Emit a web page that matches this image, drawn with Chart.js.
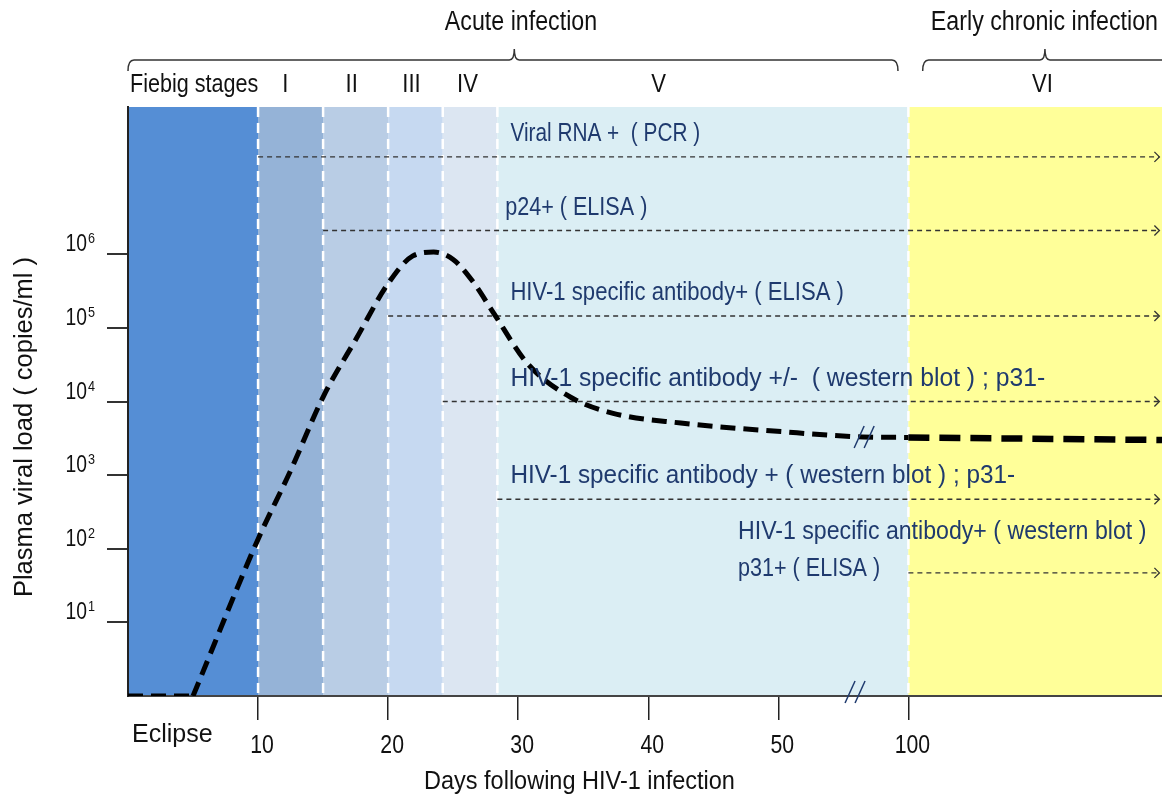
<!DOCTYPE html>
<html>
<head>
<meta charset="utf-8">
<script src="https://cdn.jsdelivr.net/npm/chart.js@4.4.1/dist/chart.umd.min.js"></script>
<style>
  html, body { margin: 0; padding: 0; background: #fff; }
  #wrap { width: 1162px; height: 797px; }
</style>
</head>
<body>
<div id="wrap"><canvas id="c"></canvas></div>
<script>
// days on the drawn axis; the "100" tick sits where day 60 would be (axis break)
const xTickDays = [10, 20, 30, 40, 50, 60];
const xTickLabels = ['10', '20', '30', '40', '50', '100'];
const yTickExps = [1, 2, 3, 4, 5, 6];

// Fiebig stage bands
const stageEdges = [0, 10, 15, 20, 24.2, 28.4, 60, 80];
const stageColors = ['#558ed5', '#95b3d7', '#b9cde5', '#c6d9f1', '#dce6f2', '#dbeef4', '#ffff99'];
const stageNames = ['I', 'II', 'III', 'IV', 'V', 'VI'];
const stageLabelDays = [12.1, 17.2, 21.8, 26.1, 40.8, 70.3];

// viral load curve (copies/ml)
const eclipseDays = [0, 5];
const eclipseLoad = [1, 1];
const acuteDays = [5, 10, 12.5, 15, 17.6, 20, 21.9, 23.5, 25, 26.5, 28.1, 30.7, 34, 37.3, 42.5, 50.2, 56.5, 60];
const acuteLoad = [1, 135, 1150, 11500, 74000, 400000, 950000, 1070000, 850000, 430000, 160000, 33000, 11500, 6900, 5100, 3900, 3300, 3250];
const chronicDays = [60, 79.5];
const chronicLoad = [3250, 3000];

// diagnostic assays: start day, level on the chart, label
const assayStart = [10, 15, 20, 24.2, 28.4, 60];
const assayLevel = [2.1e7, 2.1e6, 1.45e5, 1.0e4, 470, 47];
const assayLabels = [
  ['Viral RNA +  ( PCR )'],
  ['p24+ ( ELISA )'],
  ['HIV-1 specific antibody+ ( ELISA )'],
  ['HIV-1 specific antibody +/-  ( western blot ) ; p31-'],
  ['HIV-1 specific antibody + ( western blot ) ; p31-'],
  ['HIV-1 specific antibody+ ( western blot )', 'p31+ ( ELISA )']
];
const assayLabelDays = [29.4, 29.0, 29.4, 29.4, 29.4, 46.9];
const assayEnd = 79.3;

const FONT = '"Liberation Sans", Arial, sans-serif';
const NAVY = '#1f3a6e';
// horizontal squeeze per label line, to get the narrow look of the original face
const labelStretch = [[0.80], [0.83], [0.85], [0.95], [0.935], [0.89, 0.83]];

function xy(days, vals) { return days.map((d, i) => ({ x: d, y: vals[i] })); }

// condensed text: draw Liberation Sans squeezed horizontally
function txt(ctx, s, x, y, size, align, sx, color) {
  ctx.save();
  ctx.translate(x, y);
  ctx.scale(sx, 1);
  ctx.font = size + 'px ' + FONT;
  ctx.textAlign = align;
  ctx.textBaseline = 'alphabetic';
  ctx.fillStyle = color;
  ctx.fillText(s, 0, 0);
  ctx.restore();
}

const assaySets = assayStart.map((s, i) => ({
  data: [{ x: s, y: assayLevel[i] }, { x: assayEnd, y: assayLevel[i] }],
  borderColor: '#333',
  borderWidth: 1.4,
  borderDash: [5, 4],
  pointRadius: 0,
  fill: false
}));

const curveStyle = { borderColor: '#000', pointRadius: 0, fill: false, borderCapStyle: 'butt' };

const decor = {
  id: 'decor',
  beforeDraw(chart) {
    const { ctx, chartArea: a, scales: { x } } = chart;
    ctx.save();
    ctx.fillStyle = '#fff';
    ctx.fillRect(0, 0, chart.width, chart.height);
    stageColors.forEach((c, i) => {
      const x0 = x.getPixelForValue(stageEdges[i]);
      const x1 = Math.min(x.getPixelForValue(stageEdges[i + 1]), a.right);
      ctx.fillStyle = c;
      ctx.fillRect(x0, a.top, x1 - x0, a.bottom - a.top);
    });
    ctx.strokeStyle = '#fff';
    ctx.lineWidth = 2.5;
    ctx.setLineDash([10, 6]);
    stageEdges.slice(1, 7).forEach(d => {
      const px = x.getPixelForValue(d);
      ctx.beginPath();
      ctx.moveTo(px, a.top);
      ctx.lineTo(px, a.bottom);
      ctx.stroke();
    });
    ctx.restore();
  },
  afterDatasetsDraw(chart) {
    const { ctx, chartArea: a, scales: { x, y } } = chart;
    ctx.save();
    // arrow heads
    ctx.strokeStyle = '#333';
    ctx.lineWidth = 1.3;
    assayLevel.forEach(v => {
      const px = x.getPixelForValue(assayEnd), py = y.getPixelForValue(v);
      ctx.beginPath();
      ctx.moveTo(px - 5, py - 5);
      ctx.lineTo(px, py);
      ctx.lineTo(px - 5, py + 5);
      ctx.stroke();
    });
    // assay labels
    assayLabels.forEach((lines, i) => {
      const px = x.getPixelForValue(assayLabelDays[i]);
      const py = y.getPixelForValue(assayLevel[i]);
      if (lines.length === 1) {
        txt(ctx, lines[0], px, py - 16, 26, 'left', labelStretch[i][0], NAVY);
      } else {
        txt(ctx, lines[0], px, py - 34, 26, 'left', labelStretch[i][0], NAVY);
        txt(ctx, lines[1], px, py + 3, 26, 'left', labelStretch[i][1], NAVY);
      }
    });
    // axis break marks
    ctx.strokeStyle = NAVY;
    ctx.lineWidth = 1.5;
    const slash = (cx, cy) => {
      [-5, 5].forEach(o => {
        ctx.beginPath();
        ctx.moveTo(cx + o - 5, cy + 11);
        ctx.lineTo(cx + o + 5, cy - 11);
        ctx.stroke();
      });
    };
    slash(x.getPixelForValue(56.6), y.getPixelForValue(3300));
    slash(x.getPixelForValue(55.9), a.bottom - 4);

    // y tick labels with superscript exponents
    yTickExps.forEach(e => {
      const py = y.getPixelForValue(Math.pow(10, e));
      txt(ctx, '10', a.left - 41, py - 3, 23, 'right', 0.84, '#111');
      txt(ctx, String(e), a.left - 40, py - 11, 15, 'left', 0.84, '#111');
    });
    // y title
    ctx.save();
    ctx.translate(32, 427);
    ctx.rotate(-Math.PI / 2);
    txt(ctx, 'Plasma viral load ( copies/ml )', 0, 0, 25, 'center', 1.02, '#111');
    ctx.restore();

    // x tick labels and titles
    xTickDays.forEach((d, i) => txt(ctx, xTickLabels[i], x.getPixelForValue(d) + 4, 753, 25, 'center', 0.85, '#111'));
    txt(ctx, 'Eclipse', a.left + 4, 742, 25, 'left', 1.0, '#111');
    txt(ctx, 'Days following HIV-1 infection', 424, 789, 25, 'left', 0.94, '#111');

    // stage labels
    txt(ctx, 'Fiebig stages', a.left + 2, 92, 26, 'left', 0.83, '#111');
    stageNames.forEach((n, i) => txt(ctx, n, x.getPixelForValue(stageLabelDays[i]), 92, 26, 'center', 0.85, '#111'));

    // phase braces
    ctx.strokeStyle = '#333';
    ctx.lineWidth = 1.5;
    const brace = (d0, dm, d1, label, lx, align, sx) => {
      const x0 = x.getPixelForValue(d0), xm = x.getPixelForValue(dm), x1 = x.getPixelForValue(d1);
      const yb = 60;
      ctx.beginPath();
      ctx.moveTo(x0, 71);
      ctx.quadraticCurveTo(x0, yb, x0 + 6, yb);
      ctx.lineTo(xm - 5, yb);
      ctx.quadraticCurveTo(xm, yb, xm, 49);
      ctx.quadraticCurveTo(xm, yb, xm + 5, yb);
      ctx.lineTo(x1 - 6, yb);
      ctx.quadraticCurveTo(x1, yb, x1, 71);
      ctx.stroke();
      txt(ctx, label, lx, 30, 27, align, sx, '#111');
    };
    brace(0, 29.7, 59.2, 'Acute infection', 521, 'center', 0.86);
    brace(61.1, 70.5, 81, 'Early chronic infection', 1158, 'right', 0.86);
    ctx.restore();
  }
};

new Chart(document.getElementById('c'), {
  type: 'line',
  data: {
    datasets: [
      { ...curveStyle, data: xy(eclipseDays, eclipseLoad), borderWidth: 5, borderDash: [15, 8] },
      { ...curveStyle, data: xy(acuteDays, acuteLoad), borderWidth: 5, borderDash: [15, 8], cubicInterpolationMode: 'monotone' },
      { ...curveStyle, data: xy(chronicDays, chronicLoad), borderWidth: 6.5, borderDash: [21, 10] },
      ...assaySets
    ]
  },
  options: {
    responsive: true,
    maintainAspectRatio: false,
    animation: false,
    events: [],
    layout: { padding: { top: 107, right: 0, left: 0, bottom: 0 } },
    plugins: { legend: { display: false }, tooltip: { enabled: false } },
    scales: {
      x: {
        type: 'linear',
        min: 0,
        max: 79.5,
        afterFit: s => { s.height = 101; },
        afterBuildTicks: s => { s.ticks = xTickDays.map(v => ({ value: v })); },
        grid: { drawOnChartArea: false, drawTicks: true, tickLength: 24, color: '#222', lineWidth: 1.5 },
        border: { display: true, color: '#444', width: 2 },
        ticks: { display: false }
      },
      y: {
        type: 'logarithmic',
        min: 1,
        max: 1e8,
        afterFit: s => { s.width = 128; },
        afterBuildTicks: s => { s.ticks = yTickExps.map(e => ({ value: Math.pow(10, e) })); },
        grid: { drawOnChartArea: false, drawTicks: true, tickLength: 21, color: '#333', lineWidth: 2 },
        border: { display: true, color: '#222', width: 2 },
        ticks: { display: false }
      }
    }
  },
  plugins: [decor]
});
</script>
</body>
</html>
